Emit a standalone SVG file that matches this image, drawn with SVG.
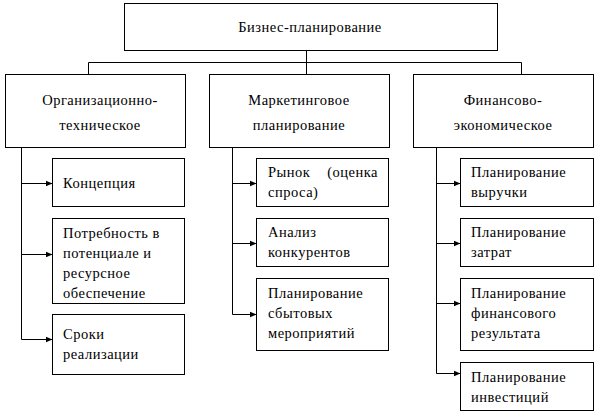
<svg xmlns="http://www.w3.org/2000/svg" width="598" height="413" viewBox="0 0 598 413">
<style>
.box{fill:#fff;stroke:#000;stroke-width:1}
.t{font-family:"Liberation Serif","Times New Roman",serif;font-size:14.5px;letter-spacing:0.5px;fill:#000}
.c{text-anchor:middle}
.ln{fill:none;stroke:#000;stroke-width:1}
</style>
<defs>
<marker id="ah" markerUnits="userSpaceOnUse" markerWidth="8" markerHeight="8" refX="7" refY="4" orient="auto">
<path d="M0,1 L7,4 L0,7 Z" fill="#000"/>
</marker>
</defs>
<g id="connectors">
<path class="ln" d="M306.5 50.5 V74.5 M88.5 62.5 H521.5 M88.5 62.5 V74.5 M521.5 62.5 V74.5"/>
<path class="ln" d="M21.5 147.5 V339.5 M232.5 147.5 V314.5 M436.5 147.5 V373.5"/>
<path class="ln" marker-end="url(#ah)" d="M21.5 183.5 H52.5"/>
<path class="ln" marker-end="url(#ah)" d="M21.5 254.5 H52.5"/>
<path class="ln" marker-end="url(#ah)" d="M21.5 339.5 H52.5"/>
<path class="ln" marker-end="url(#ah)" d="M232.5 183.5 H256.5"/>
<path class="ln" marker-end="url(#ah)" d="M232.5 243.5 H256.5"/>
<path class="ln" marker-end="url(#ah)" d="M232.5 314.5 H256.5"/>
<path class="ln" marker-end="url(#ah)" d="M436.5 183.5 H460.5"/>
<path class="ln" marker-end="url(#ah)" d="M436.5 243.5 H460.5"/>
<path class="ln" marker-end="url(#ah)" d="M436.5 303.5 H460.5"/>
<path class="ln" marker-end="url(#ah)" d="M436.5 373.5 H460.5"/>
</g>
<g id="root">
<rect class="box" x="124.5" y="3.5" width="373" height="47"/>
<text class="t c" x="310" y="32">Бизнес-планирование</text>
</g>
<g id="org">
<rect class="box" x="5.5" y="74.5" width="180" height="73"/>
<text class="t c" x="100" y="105">Организационно-</text>
<text class="t c" x="100" y="130">техническое</text>
</g>
<g id="mkt">
<rect class="box" x="209.5" y="74.5" width="180" height="73"/>
<text class="t c" x="299" y="105">Маркетинговое</text>
<text class="t c" x="299" y="130">планирование</text>
</g>
<g id="fin">
<rect class="box" x="413.5" y="74.5" width="180" height="73"/>
<text class="t c" x="503" y="105">Финансово-</text>
<text class="t c" x="503" y="130">экономическое</text>
</g>
<g id="org1">
<rect class="box" x="52.5" y="158.5" width="132" height="48"/>
<text class="t" x="63" y="188">Концепция</text>
</g>
<g id="org2">
<rect class="box" x="52.5" y="218.5" width="132" height="85"/>
<text class="t" x="63" y="238">Потребность в</text>
<text class="t" x="63" y="258">потенциале и</text>
<text class="t" x="63" y="278">ресурсное</text>
<text class="t" x="63" y="298">обеспечение</text>
</g>
<g id="org3">
<rect class="box" x="52.5" y="314.5" width="132" height="60"/>
<text class="t" x="63" y="339">Сроки</text>
<text class="t" x="63" y="359">реализации</text>
</g>
<g id="mkt1">
<rect class="box" x="256.5" y="158.5" width="132" height="48"/>
<text class="t" x="268" y="177">Рынок</text>
<text class="t" x="378" y="177" text-anchor="end">(оценка</text>
<text class="t" x="268" y="197">спроса)</text>
</g>
<g id="mkt2">
<rect class="box" x="256.5" y="218.5" width="132" height="48"/>
<text class="t" x="268" y="237">Анализ</text>
<text class="t" x="268" y="257">конкурентов</text>
</g>
<g id="mkt3">
<rect class="box" x="256.5" y="278.5" width="132" height="72"/>
<text class="t" x="268" y="298">Планирование</text>
<text class="t" x="268" y="318">сбытовых</text>
<text class="t" x="268" y="338">мероприятий</text>
</g>
<g id="fin1">
<rect class="box" x="460.5" y="158.5" width="133" height="48"/>
<text class="t" x="471" y="177">Планирование</text>
<text class="t" x="471" y="197">выручки</text>
</g>
<g id="fin2">
<rect class="box" x="460.5" y="218.5" width="133" height="48"/>
<text class="t" x="471" y="237">Планирование</text>
<text class="t" x="471" y="257">затрат</text>
</g>
<g id="fin3">
<rect class="box" x="460.5" y="278.5" width="133" height="72"/>
<text class="t" x="471" y="298">Планирование</text>
<text class="t" x="471" y="318">финансового</text>
<text class="t" x="471" y="338">результата</text>
</g>
<g id="fin4">
<rect class="box" x="460.5" y="362.5" width="133" height="48"/>
<text class="t" x="471" y="382">Планирование</text>
<text class="t" x="471" y="402">инвестиций</text>
</g>
</svg>
